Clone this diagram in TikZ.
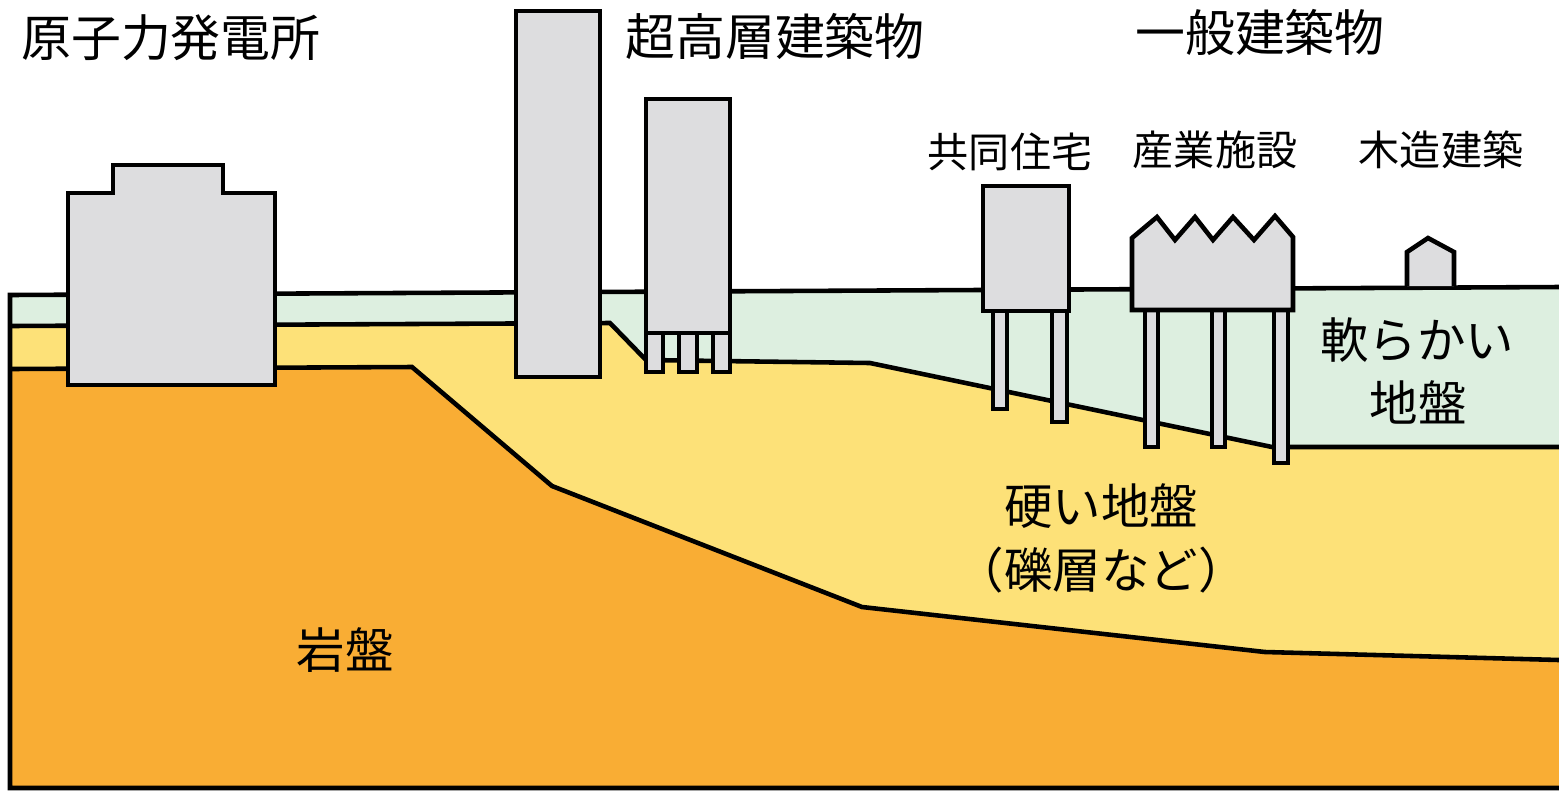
\documentclass[tikz,border=0pt]{standalone}
\usepackage{fontspec}
\newfontfamily\jp{Noto Sans CJK JP}
\definecolor{softground}{RGB}{221,239,224}
\definecolor{hardground}{RGB}{253,225,120}
\definecolor{bedrock}{RGB}{249,173,52}
\definecolor{building}{RGB}{221,221,223}
\begin{document}
\begin{tikzpicture}[x=0.1mm,y=-0.1mm,
  outline/.style={draw=black,line width=1.3pt,line join=miter},
  bldg/.style={outline,fill=building},
  head/.style={font=\jp\fontsize{14.2pt}{16pt}\selectfont,inner sep=0pt},
  sublabel/.style={font=\jp\fontsize{11.7pt}{13pt}\selectfont,inner sep=0pt},
  layerlabel/.style={font=\jp\fontsize{13.8pt}{16pt}\selectfont,inner sep=0pt}]
\useasboundingbox (0,0) rectangle (1559,795);

% ground layers, filled from the top layer down
\fill[softground] (10,295) -- (1559,287) -- (1559,788) -- (10,788) -- cycle;
\fill[hardground] (10,326) -- (610,323) -- (646,360) -- (870,363) -- (1272,447)
  -- (1559,447) -- (1559,788) -- (10,788) -- cycle;
\fill[bedrock] (10,369) -- (412,367) -- (552,486) -- (862,607) -- (1265,652)
  -- (1559,660) -- (1559,788) -- (10,788) -- cycle;

% layer boundaries and frame
\draw[outline] (1559,287) -- (10,295) -- (10,788) -- (1559,788);
\draw[outline] (10,326) -- (610,323) -- (646,360) -- (870,363) -- (1272,447) -- (1559,447);
\draw[outline] (10,369) -- (412,367) -- (552,486) -- (862,607) -- (1265,652) -- (1559,660);

% nuclear power plant, set on bedrock
\draw[bldg] (68,385) -- (68,193) -- (113,193) -- (113,165) -- (223,165)
  -- (223,193) -- (275,193) -- (275,385) -- cycle;

% high-rise buildings
\draw[bldg] (516,11) rectangle (600,377);
\draw[bldg] (646,333) rectangle (663,372);
\draw[bldg] (679,333) rectangle (697,372);
\draw[bldg] (713,333) rectangle (730,372);
\draw[bldg] (646,99) rectangle (730,333);

% apartment block on piles
\draw[bldg] (993,311) rectangle (1007,409);
\draw[bldg] (1052,311) rectangle (1067,422);
\draw[bldg] (983,186) rectangle (1069,311);

% factory with sawtooth roof on piles
\draw[bldg] (1145,310) rectangle (1158,447);
\draw[bldg] (1212,310) rectangle (1225,447);
\draw[bldg] (1274,310) rectangle (1288,463);
\draw[bldg] (1132,310) -- (1132,238) -- (1157,217) -- (1175,240) -- (1195,217)
  -- (1213,240) -- (1233,217) -- (1254,240) -- (1275,216) -- (1293,237)
  -- (1293,310) -- cycle;

% wooden house
\draw[bldg] (1407,286) -- (1407,252) -- (1428,238) -- (1454,252) -- (1454,286);

% headings
\node[head] (nuclear) at (171,38) {原子力発電所};
\node[head] (highrise) at (775,36) {超高層建築物};
\node[head] (general) at (1260,32) {一般建築物};
\node[sublabel] (apartment) at (1010,152) {共同住宅};
\node[sublabel] (industrial) at (1215,150) {産業施設};
\node[sublabel] (wooden) at (1441,150) {木造建築};

% ground labels
\node[layerlabel] (soft1) at (1417,340) {軟らかい};
\node[layerlabel] (soft2) at (1418,402) {地盤};
\node[layerlabel] (hard1) at (1101,506) {硬い地盤};
\node[layerlabel] (hard2) at (1101,570) {（礫層など）};
\node[layerlabel] (rock) at (345,650) {岩盤};
\end{tikzpicture}
\end{document}
